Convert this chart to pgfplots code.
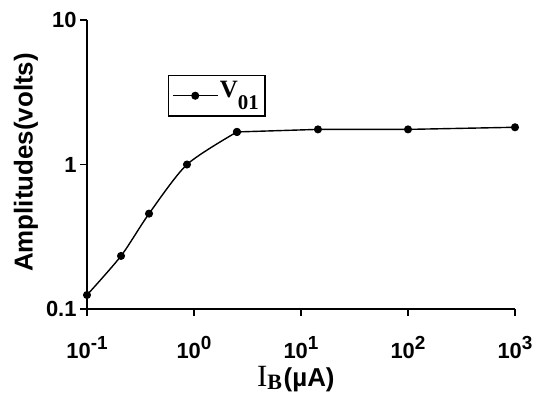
\documentclass[border=0pt]{standalone}
\usepackage{pgfplots}
\pgfplotsset{compat=1.18}
\usepackage{fontspec}
\setmainfont{Liberation Sans}
\newfontfamily\serif{Liberation Serif}
\newcommand{\tl}{\fontsize{22}{24}\selectfont\bfseries}
\newcommand{\ex}[1]{\tl 10\raisebox{0.42em}{\fontsize{19}{20}\selectfont #1}}
\begin{document}
\begin{tikzpicture}
\begin{axis}[
  scale only axis, width=428bp, height=289bp,
  xmode=log, ymode=log,
  xmin=0.1, xmax=1000, ymin=0.1, ymax=10,
  axis lines=left, axis line style={-, line width=1.5bp},
  tick align=outside, major tick length=7bp,
  tick style={line width=1.3bp, black},
  xminorticks=false, yminorticks=false,
  xtick={0.1,1,10,100,1000},
  xticklabels={\ex{-1},\ex{0},\ex{1},\ex{2},\ex{3}},
  ytick={0.1,1,10},
  yticklabels={\tl 0.1,\tl 1,\tl 10},
  xticklabel style={anchor=base, yshift=-43bp},
  yticklabel style={anchor=east},
  ylabel={\fontsize{26}{28}\selectfont\bfseries Amplitudes(volts)},
  ylabel style={at={(axis description cs:-0.1425,0.507)}, anchor=center},
  xlabel={{\serif\fontsize{31}{33}\selectfont I}\raisebox{-0.25em}{\serif\fontsize{22}{24}\selectfont\bfseries B}\,{\fontsize{26}{28}\selectfont\bfseries(\textmu A)}},
  xlabel style={at={(axis description cs:0.488,-0.269)}, anchor=base},
  legend style={at={(0.189,0.81)}, anchor=north west, draw=black, line width=1.3bp,
    inner xsep=4bp, inner ysep=4bp, nodes={inner sep=2bp, text depth=12bp}},
  legend image code/.code={
    \draw[mark repeat=2,mark phase=2,#1] plot coordinates {(0bp,0bp) (22bp,0bp) (44bp,0bp)};
  },
  legend cell align=left,
  clip=false,
]
\addplot[black, line width=1.4bp, smooth, tension=0.45, mark=*, mark size=3.3bp, mark options={solid}]
  coordinates {
  (0.1,0.125) (0.208,0.233) (0.38,0.457) (0.86,1.0) (2.52,1.68)
  };
\addlegendentry{{\serif\fontsize{25}{27}\selectfont\bfseries V}\raisebox{-12bp}{\serif\fontsize{21}{23}\selectfont\bfseries 01}}
\addplot[black, line width=1.4bp, mark=*, mark size=3.3bp, mark options={solid}, forget plot]
  coordinates {
  (2.52,1.68) (14.4,1.75) (100,1.75) (1000,1.81)
  };
\end{axis}
\pgfresetboundingbox
\path[use as bounding box] ([shift={(-87bp,-89bp)}]current axis.south west) rectangle ([shift={(21bp,20bp)}]current axis.north east);
\end{tikzpicture}
\end{document}
